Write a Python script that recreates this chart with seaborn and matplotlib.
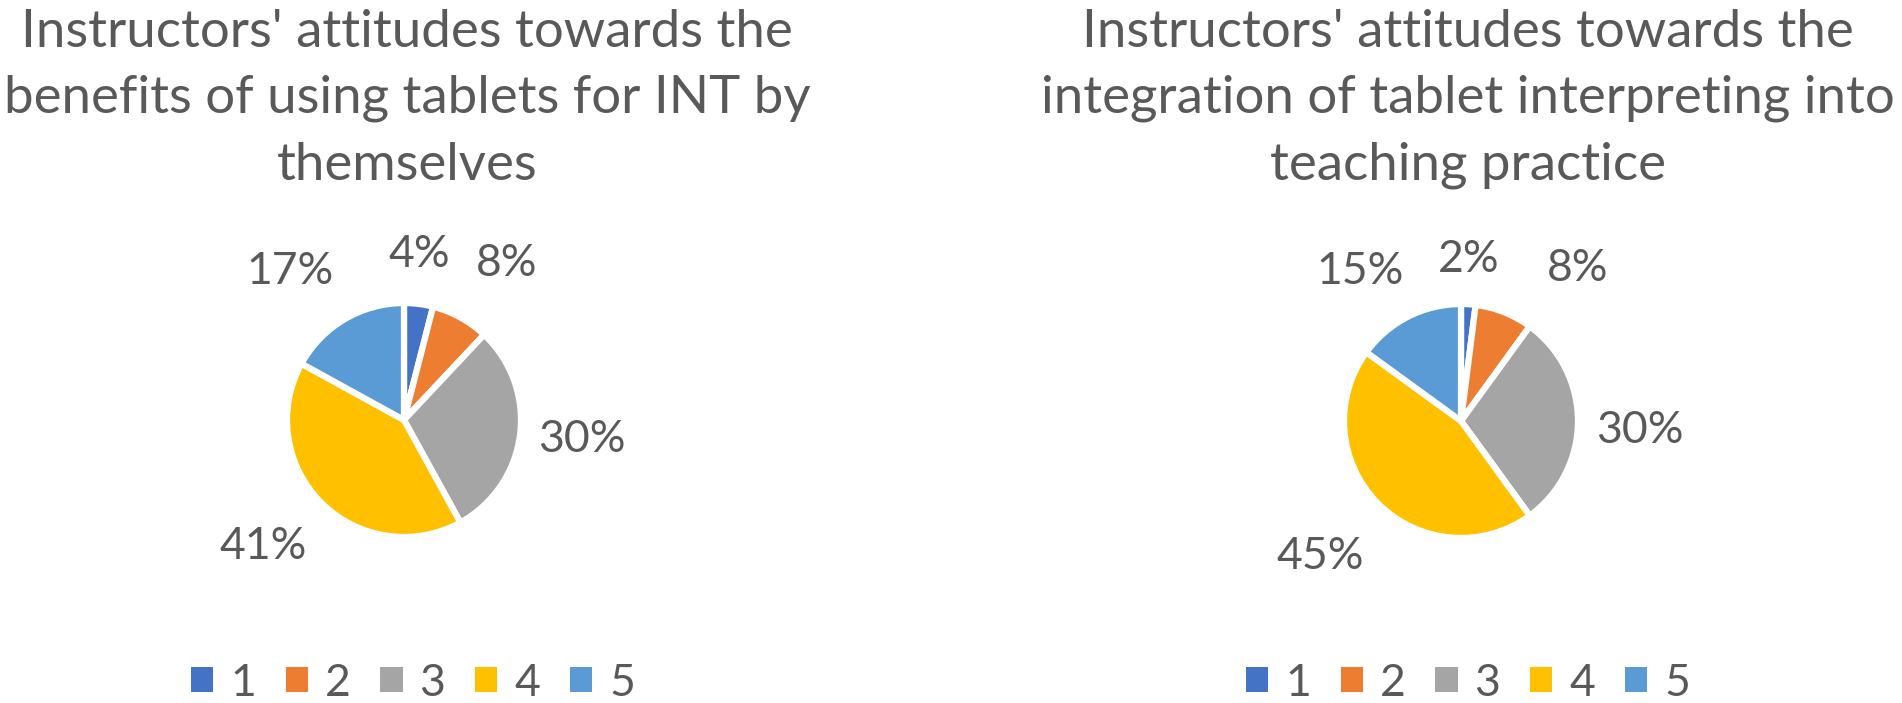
import matplotlib
matplotlib.use("Agg")
import numpy as np
import matplotlib.pyplot as plt
from matplotlib.patches import Patch
import seaborn as sns

categories = ["1", "2", "3", "4", "5"]
benefits_values = [4, 8, 30, 41, 17]
integration_values = [2, 8, 30, 45, 15]
titles = [
    "Instructors' attitudes towards the\nbenefits of using tablets for INT by\nthemselves",
    "Instructors' attitudes towards the\nintegration of tablet interpreting into\nteaching practice",
]
colors = ["#4472C4", "#ED7D31", "#A5A5A5", "#FFC000", "#5B9BD5"]

sns.set_theme(style="white")
plt.rcParams['font.family'] = ['Lato', 'DejaVu Sans']
TXT = "#595959"

W, H = 1902, 703
fig = plt.figure(figsize=(W / 100, H / 100), dpi=100)

LABEL_FS = 32
TITLE_FS = 38


def add_pie(cx, cy, r, values, title, title_x, legend_x, dists, shifts):
    half = 2 * r
    ax = fig.add_axes([(cx - half) / W, (H - cy - half) / H, 2 * half / W, 2 * half / H])
    wedges, texts, autotexts = ax.pie(
        values, colors=colors, startangle=90, counterclock=False,
        autopct=lambda p: f"{p:.0f}%", pctdistance=1.5,
        wedgeprops=dict(edgecolor="white", linewidth=4.5),
        textprops=dict(color=TXT, fontsize=LABEL_FS),
    )
    for w, t, d, s in zip(wedges, autotexts, dists, shifts):
        ang = np.deg2rad((w.theta1 + w.theta2) / 2 + s)
        t.set_position((d * np.cos(ang), d * np.sin(ang)))
    ax.set_xlim(-2, 2)
    ax.set_ylim(-2, 2)
    ax.set_aspect("equal")
    ax.axis("off")
    fig.text(title_x / W, 1 - 9 / H, title, ha="center", va="top", fontsize=TITLE_FS,
             color=TXT, linespacing=1.5)
    handles = [Patch(facecolor=c, edgecolor="none") for c in colors]
    fig.legend(handles, categories, loc="center", bbox_to_anchor=(legend_x / W, 1 - 683 / H),
               ncol=5, frameon=False, fontsize=LABEL_FS, labelcolor=TXT,
               handlelength=0.5, handleheight=0.5, handletextpad=0.38,
               columnspacing=0.67, borderpad=0, borderaxespad=0)


add_pie(404, 420, 117, benefits_values, titles[0], 407, 413,
        [1.42, 1.60, 1.53, 1.62, 1.60], [2, -4.6, 1, -3, 7])
add_pie(1461, 421, 117, integration_values, titles[1], 1468, 1468,
        [1.38, 1.64, 1.53, 1.67, 1.54], [1, -16, -3, -1, 7])

fig.savefig("out.png", dpi=100)
